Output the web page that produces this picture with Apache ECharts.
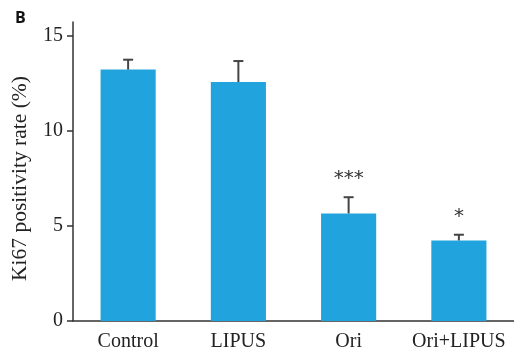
<!DOCTYPE html>
<html>
<head>
<meta charset="utf-8">
<script src="https://cdn.jsdelivr.net/npm/echarts@6/dist/echarts.min.js"></script>
<style>html,body{margin:0;padding:0;background:#fff}#c{width:514px;height:354px}</style>
</head>
<body>
<div id="c"></div>
<script>
const categories = ['Control', 'LIPUS', 'Ori', 'Ori+LIPUS'];
const means = [13.2, 12.55, 5.65, 4.23];
const errUpper = [13.72, 13.65, 6.5, 4.53];
const significance = ['', '', '***', '*'];
const yTicks = [0, 5, 10, 15];

const chart = echarts.init(document.getElementById('c'));
const serif = '"Liberation Serif", "Times New Roman", serif';
chart.setOption({
  animation: false,
  backgroundColor: '#fff',
  graphic: [{
    type: 'text', left: 15, top: 10,
    style: { text: 'B', font: 'bold 16px "Open Sans", "DejaVu Sans", sans-serif', fill: '#111' }
  }],
  grid: { left: 73, top: 22, width: 443, bottom: 33 },
  xAxis: {
    type: 'category',
    data: categories,
    axisLine: { lineStyle: { color: '#333', width: 1.5 } },
    axisTick: { alignWithLabel: true, length: 5, lineStyle: { color: '#333', width: 1.5 } },
    axisLabel: { interval: 0, fontFamily: serif, fontSize: 20, color: '#222', margin: 11 }
  },
  yAxis: {
    type: 'value', min: 0, max: 15.7,
    name: 'Ki67 positivity rate (%)',
    nameLocation: 'middle',
    nameGap: 42,
    nameTextStyle: { fontFamily: serif, fontSize: 21.5, color: '#222', padding: [0, 0, 0, -14] },
    splitLine: { show: false },
    axisLine: { show: true, lineStyle: { color: '#333', width: 1.5 } },
    axisTick: { show: true, length: 6, customValues: yTicks, lineStyle: { color: '#333', width: 1.5 } },
    axisLabel: { fontFamily: serif, fontSize: 20, color: '#222', margin: 10, customValues: yTicks }
  },
  series: [{
    type: 'bar',
    data: means,
    barWidth: '50%',
    itemStyle: { color: '#21a4dd' },
    z: 2
  }, {
    type: 'custom',
    data: means.map((m, i) => [i, m, errUpper[i]]),
    z: 3,
    renderItem: function (params, api) {
      const p0 = api.coord([api.value(0), api.value(1)]);
      const p1 = api.coord([api.value(0), api.value(2)]);
      const half = 5;
      return {
        type: 'group',
        children: [
          { type: 'line', shape: { x1: p0[0], y1: p0[1], x2: p1[0], y2: p1[1] }, style: { stroke: '#444', lineWidth: 2 } },
          { type: 'line', shape: { x1: p1[0] - half, y1: p1[1], x2: p1[0] + half, y2: p1[1] }, style: { stroke: '#444', lineWidth: 2 } }
        ]
      };
    }
  }, {
    type: 'custom',
    data: errUpper.map((e, i) => [i, e, significance[i]]),
    z: 4,
    renderItem: function (params, api) {
      const i = params.dataIndex;
      const p = api.coord([api.value(0), api.value(1)]);
      return {
        type: 'text',
        style: {
          text: significance[i], x: p[0], y: p[1] - 8,
          align: 'center', verticalAlign: 'bottom',
          font: '20px "DejaVu Sans", sans-serif', fill: '#333'
        }
      };
    }
  }]
});
</script>
</body>
</html>
